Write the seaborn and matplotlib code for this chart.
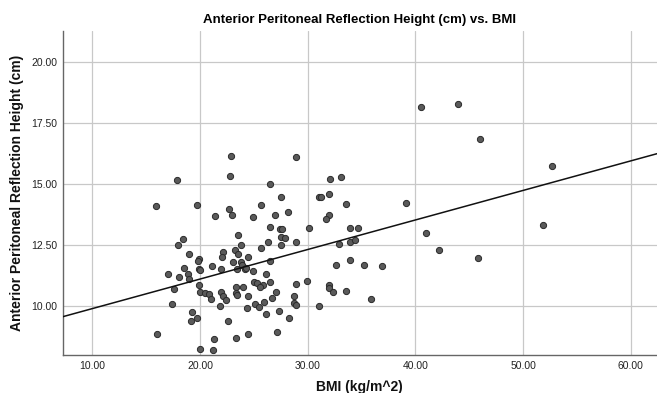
import matplotlib
matplotlib.use('Agg')
import matplotlib.pyplot as plt
import matplotlib.ticker as mticker
import seaborn as sns
import pandas as pd

# BMI values (kg/m^2)
bmi = [22.9, 22.8, 17.86, 15.95, 19.71, 21.42, 22.71, 22.95, 24.94,
       28.92, 26.47, 32.06, 33.05, 27.56, 25.70, 31.07, 31.26, 31.94, 33.60,
       26.94, 28.14, 31.94, 31.69, 26.54, 27.43, 27.58, 30.15, 33.92, 34.71,
       40.55, 43.98, 46.0, 52.68, 39.16, 40.98, 51.82, 42.16, 45.78,
       27.56, 27.93, 26.29, 28.94, 32.93, 33.94, 34.41, 27.53, 25.70, 26.54,
       32.65, 33.91, 35.24, 36.91, 24.96, 26.14, 25.03, 25.27, 25.86, 25.61,
       26.47, 28.94, 29.96, 31.97, 31.94, 32.34, 33.57, 35.92, 27.03, 26.66,
       25.92, 28.73, 28.76, 28.94, 25.08, 25.45, 26.1, 27.34, 31.01, 28.30,
       27.19,
       18.39, 17.95, 23.57, 23.82, 18.94, 19.93, 19.81, 22.12, 22.06, 23.27,
       23.57, 24.5, 23.05, 23.79, 23.92, 21.14, 19.93, 19.96, 18.48, 21.99,
       23.4, 24.15, 24.24, 17.03, 18.02, 18.88, 19.0, 19.93, 23.36, 24.04,
       17.56, 19.99, 20.49, 20.80, 20.98, 21.94, 22.12, 22.44, 23.32, 23.45,
       24.44, 17.37, 21.84, 24.41, 19.29, 19.19, 19.75, 22.62, 15.98, 21.32,
       23.39, 24.5, 19.99, 21.19]

# reflection height (cm)
height = [16.16, 15.36, 15.19, 14.10, 14.16, 13.71, 13.97, 13.76, 13.66,
          16.11, 15.00, 15.21, 15.30, 14.50, 14.14, 14.50, 14.50, 14.59, 14.20,
          13.76, 13.86, 13.76, 13.60, 13.26, 13.16, 13.16, 13.21, 13.21, 13.21,
          18.15, 18.31, 16.85, 15.75, 14.25, 13.0, 13.35, 12.33, 12.0,
          12.85, 12.81, 12.64, 12.64, 12.56, 12.64, 12.70, 12.51, 12.40, 11.84,
          11.70, 11.91, 11.70, 11.65, 11.46, 11.31, 11.01, 10.95, 10.86, 10.80,
          11.01, 10.90, 11.05, 10.86, 10.75, 10.60, 10.65, 10.30, 10.60, 10.34,
          10.20, 10.41, 10.12, 10.05, 10.11, 9.97, 9.70, 9.81, 10.00, 9.51,
          8.95,
          12.76, 12.51, 12.92, 12.51, 12.15, 11.96, 11.88, 12.21, 12.02, 12.30,
          12.13, 12.02, 11.80, 11.82, 11.69, 11.64, 11.55, 11.48, 11.58, 11.54,
          11.54, 11.55, 11.58, 11.32, 11.20, 11.31, 11.13, 10.86, 10.80, 10.80,
          10.71, 10.57, 10.56, 10.52, 10.30, 10.61, 10.41, 10.25, 10.56, 10.46,
          10.41, 10.11, 10.00, 9.94, 9.77, 9.41, 9.51, 9.41, 8.85, 8.65,
          8.70, 8.88, 8.27, 8.20]

# fit line as shown on the chart
fit_intercept = 8.70
fit_slope = 0.121

df = pd.DataFrame({'bmi': bmi, 'height': height})

sns.set_style('white')
plt.rcParams['font.family'] = ['Liberation Sans', 'DejaVu Sans']

fig = plt.figure(figsize=(6.57, 3.93), dpi=100)
ax = fig.add_axes([0.0954, 0.0967, 0.9046, 0.8244])

sns.scatterplot(data=df, x='bmi', y='height', ax=ax, s=20,
                color='#5a5a5a', edgecolor='#2a2a2a', linewidth=0.7, zorder=3)
ax.axline((0, fit_intercept), slope=fit_slope, color='#111111', linewidth=1.1, zorder=4)

ax.set_xlim(7.25, 62.44)
ax.set_ylim(8.01, 21.28)
ax.set_xticks([10, 20, 30, 40, 50, 60])
ax.set_yticks([10, 12.5, 15, 17.5, 20])
ax.xaxis.set_major_formatter(mticker.FormatStrFormatter('%.2f'))
ax.yaxis.set_major_formatter(mticker.FormatStrFormatter('%.2f'))
ax.tick_params(axis='both', length=0, labelsize=7.5, colors='#222222', pad=4)
ax.grid(True, color='#c8c8c8', linewidth=0.9, zorder=0)
ax.set_axisbelow(True)

for side in ['top', 'right']:
    ax.spines[side].set_visible(False)
for side in ['left', 'bottom']:
    ax.spines[side].set_color('#666666')
    ax.spines[side].set_linewidth(1.0)

ax.set_title('Anterior Peritoneal Reflection Height (cm) vs. BMI',
             fontsize=9.5, fontweight='bold', color='black', pad=6)
ax.set_xlabel('BMI (kg/m^2)', fontsize=10, fontweight='bold', color='#111111', labelpad=7)
ax.set_ylabel('Anterior Peritoneal Reflection Height (cm)', fontsize=10,
              fontweight='bold', color='#111111', labelpad=5)

fig.savefig('out.png', dpi=100)
